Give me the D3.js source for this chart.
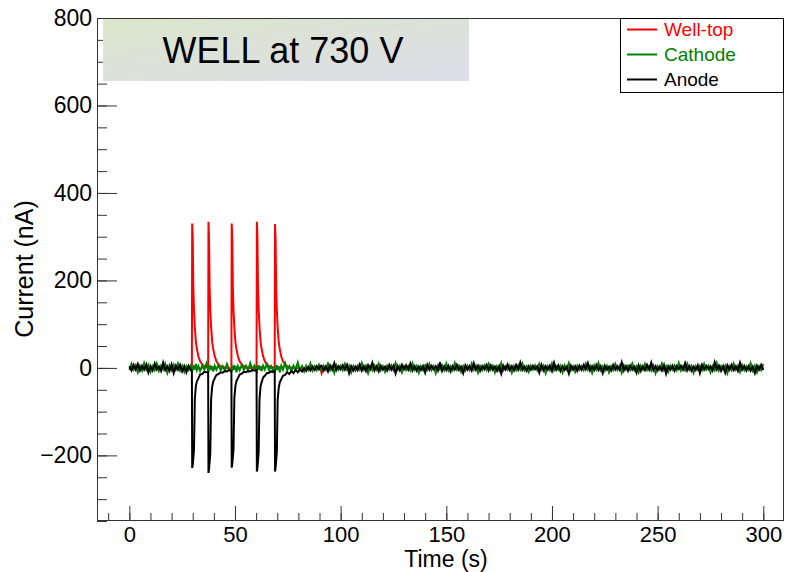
<!DOCTYPE html>
<html>
<head>
<meta charset="utf-8">
<script src="https://cdn.jsdelivr.net/npm/d3@7"></script>
<style>
  html, body { margin: 0; padding: 0; background: #fff; }
  svg { display: block; font-family: "Liberation Sans", Arial, Helvetica, sans-serif; }
</style>
</head>
<body>
<svg id="chart" width="785" height="572"></svg>
<script>
// ---------------- DATA ----------------
const seriesNames = ["Well-top", "Cathode", "Anode"];
const titleText = "WELL at 730 V";
const xTitle = "Time (s)";
const yTitle = "Current (nA)";
const xTickLabels = [0, 50, 100, 150, 200, 250, 300];
const yTickLabels = [-200, 0, 200, 400, 600, 800];

// sample times (s): quiet start, pulse region, quiet end
const earlyTimes = d3.range(0, 29);
const pulseTimes = [
  29, 29.6, 29.75, 30.0, 30.3, 30.6, 31.0, 31.5, 32.0, 32.7, 33.5, 34.5, 35.5, 36.5,
  37.3, 37.45, 37.7, 38.0, 38.3, 38.7, 39.2, 39.7, 40.4, 41.2, 42.2, 43.2, 44.2, 45.2, 46.2, 47.2,
  48.3, 48.45, 48.7, 49.0, 49.3, 49.7, 50.2, 50.7, 51.4, 52.2, 53.2, 54.2, 55.2, 56.2, 57.2, 58.2, 59.2,
  60.2, 60.35, 60.6, 60.9, 61.2, 61.6, 62.1, 62.6, 63.3, 64.1, 65.1, 66.1, 67.1, 68.1,
  68.8, 68.95, 69.2, 69.5, 69.8, 70.2, 70.7, 71.2, 71.9, 72.7, 73.7, 74.7, 75.7, 76.7, 77.7, 78.7,
  79.7, 80.7, 81.7, 82.7, 83.7, 84.7, 85.7, 86.7, 87.7, 88.7, 89.7, 90.5
];
const lateTimes = d3.range(91, 301);

// Well-top current (nA)
const wellTopEarly = [0, 1, -1, 2, 0, -1, 1, 0, -2, 1, 0, 1, -1, 0, 2, -1, 0, 1, -1, -6, 1, 0, -1, 1, 0, 2, -1, 0, 1];
const wellTopPulse = [
  -1, 1, 330, 297, 182, 132, 92, 59, 43, 26, 15, 8, 4, 2,
  1, 334, 300, 184, 134, 94, 60, 43, 27, 15, 8, 4, 2, 1, 0, -1,
  0, 330, 297, 182, 132, 92, 59, 43, 26, 15, 8, 4, 2, 1, 0, 1, 0,
  0, 334, 300, 184, 134, 94, 60, 43, 27, 15, 8, 4, 2, 1,
  0, 329, 296, 181, 132, 92, 59, 43, 26, 15, 8, 4, 2, 1, 0, 1, 0, 0, 1, 0, 0, 1, 0, 0, 0, 1, 0, -3
];
const wellTopLate = [
  -12, 1, 0, -1, 1, 0, 2, -1, 0, 1,
  0, -1, 1, 0, -1, 2, 0, 1, -1, 0,
  1, 0, -1, 1, 0, -2, 1, 0, 1, -1,
  0, 1, -1, 0, 2, -1, 0, 1, 0, -1,
  1, -1, 0, 1, -1, 0, 2, 0, -1, 1,
  0, 1, -2, 0, 1, -1, 0, 1, 0, -1,
  2, 0, -1, 1, 0, -1, 1, 0, -1, 0,
  1, -1, 0, 2, -1, 0, 1, -1, 0, 1,
  0, 1, -1, 0, 1, 0, -2, 1, 0, -1,
  1, 0, -1, 1, 0, 2, -1, 0, 1, -1,
  0, -1, 1, 0, -1, 1, 0, 2, -1, 0,
  1, 0, -1, 0, 1, -1, 0, 1, -2, 0,
  -1, 1, 0, -1, 2, 0, -1, 1, 0, 1,
  0, -1, 1, 0, -1, 1, 0, -1, 2, 0,
  1, 0, -1, 1, 0, -2, 1, 0, -1, 1,
  0, 1, -1, 0, 2, -1, 0, 1, -1, 0,
  -1, 0, 1, -1, 0, 1, 0, -1, 1, 0,
  1, -1, 0, 6, -1, 0, 1, -1, 0, 2,
  0, 1, -1, 0, 1, -1, 0, 2, -1, 0,
  1, 0, -1, 1, 0, -1, 2, 0, -1, 1,
  0, -1, 1, 0, -1, 1, 0, -1, 1, 0
];

// Cathode current (nA)
const cathodeEarly = [-5, 9, -4, 6, -10, 5, -6, 11, -4, 7, -9, 4, -5, 10, -7, 5, -4, 9, -11, 6, -5, 7, -4, 10, -6, 5, -9, 4, -5];
const cathodePulse = [
  5, -6, -8, 4, -5, 6, -4, 9, -5, 4, -7, 5, -4, 10,
  -7, -9, 5, -4, 6, -5, 4, -8, 5, -4, 7, -5, 4, -6, 9, -4,
  -8, -7, 4, -5, 6, -4, 5, -10, 4, -5, 7, -4, 5, -6, 11, -4, 5,
  -7, -8, 5, -4, 6, -5, 4, -7, 5, -4, 9, -5, 4, -6,
  -8, -6, 5, -4, 6, -5, 4, -10, 5, -4, 11, -5, 4, -7, 5, -4, 12, -5, 4, -8, 5, -4, 10, -6, 4, -5, 7, -4
];
const cathodeLate = [
  -6, 5, -4, 10, -5, 4, -11, 6, -4, 5,
  -5, 9, -4, 5, -10, 4, -6, 5, -4, 11,
  -4, 5, -12, 4, -5, 6, -4, 10, -5, 4,
  -9, 5, -4, 6, -5, 11, -4, 5, -10, 4,
  -5, 4, -6, 10, -4, 5, -11, 4, -5, 6,
  -4, 9, -5, 4, -12, 5, -4, 6, -5, 10,
  -6, 4, -5, 11, -4, 5, -9, 4, -6, 5,
  -5, 10, -4, 5, -11, 4, -5, 6, -4, 9,
  -4, 5, -10, 4, -6, 11, -5, 4, -4, 5,
  -11, 4, -5, 6, -4, 10, -5, 4, -9, 5,
  -4, 6, -5, 9, -4, 5, -12, 4, -5, 10,
  -5, 4, -4, 5, -10, 6, -4, 11, -5, 4,
  -9, 5, -4, 4, -5, 10, -4, 5, -11, 6,
  -4, 11, -5, 4, -6, 5, -10, 4, -5, 9,
  -5, 4, -11, 6, -4, 5, -4, 10, -5, 4,
  -10, 5, -4, 9, -5, 4, -6, 5, -12, 4,
  -4, 10, -5, 4, -9, 5, -4, 6, -5, 11,
  -6, 4, -5, 10, -4, 5, -11, 4, -4, 5,
  -5, 9, -4, 5, -10, 4, -5, 11, -6, 4,
  -4, 5, -12, 4, -5, 10, -4, 5, -9, 6,
  -5, 4, -4, 11, -6, 5, -10, 4, -5, 9
];

// Anode current (nA)
const anodeEarly = [4, -6, 7, -4, 9, -6, 5, -4, 8, -11, 4, -6, 10, -4, 3, -7, 12, -5, 4, -7, 8, -12, 5, -4, 7, -8, 4, -10, 5];
const anodePulse = [
  -4, -8, -229, -222, -205, -188, -70, -41, -30, -24, -15, -14, -9, -10,
  -10, -240, -232, -215, -196, -72, -43, -31, -24, -16, -14, -10, -11, -7, -8, -5,
  -7, -228, -220, -204, -185, -69, -41, -30, -23, -15, -13, -9, -10, -7, -8, -5, -6,
  -5, -237, -229, -212, -192, -72, -42, -33, -22, -18, -12, -11, -8, -9,
  -7, -237, -229, -212, -192, -73, -45, -33, -26, -18, -16, -10, -14, -7, -12, -4, -10, -3, -8, -1, -7, 2, -6, 3, -5, 4, -3, 5
];
const anodeLate = [
  5, -6, 3, -8, 6, -4, 11, -5, 4, -3,
  6, -4, 7, -12, 4, -6, 3, -5, 8, -6,
  4, -7, 6, -3, 12, -6, 4, -8, 5, -4,
  3, -6, 7, -4, 5, -13, 4, -6, 7, -3,
  6, -4, 10, -6, 4, -7, 3, -5, 4, -11,
  7, -4, 5, -3, 4, -6, 13, -7, 4, -5,
  5, -8, 4, -4, 7, -5, 3, -12, 6, -4,
  4, -6, 11, -4, 5, -7, 4, -3, 7, -6,
  6, -4, 3, -7, 4, -13, 5, -4, 8, -5,
  4, -6, 7, -4, 12, -5, 3, -7, 4, -4,
  5, -3, 4, -11, 7, -6, 4, -4, 5, -7,
  12, -4, 6, -7, 4, -5, 3, -13, 5, -4,
  4, -7, 5, -4, 7, -3, 11, -6, 4, -5,
  7, -5, 4, -12, 5, -4, 3, -6, 7, -4,
  4, -4, 13, -6, 4, -7, 5, -4, 3, -11,
  6, -7, 4, -5, 7, -4, 12, -5, 4, -6,
  3, -6, 7, -13, 4, -4, 5, -7, 4, -3,
  5, -4, 11, -6, 4, -7, 3, -5, 6, -12,
  7, -4, 5, -3, 4, -6, 13, -4, 5, -7,
  4, -11, 6, -4, 7, -5, 4, -7, 12, -4,
  5, -6, 4, -7, 3, -12, 5, -4, 7, -5
];

const seriesColors = ["#ff0000", "#008000", "#000000"];

// ---------------- BUILD ----------------
const allTimes = [...earlyTimes, ...pulseTimes, ...lateTimes];
function toPoints(vals) {
  const n = Math.min(vals.length, allTimes.length);
  const pts = [];
  for (let i = 0; i < n; i++) pts.push([allTimes[i], vals[i]]);
  return pts;
}
const series = [
  { name: seriesNames[0], color: seriesColors[0], pts: toPoints([...wellTopEarly, ...wellTopPulse, ...wellTopLate]) },
  { name: seriesNames[1], color: seriesColors[1], pts: toPoints([...cathodeEarly, ...cathodePulse, ...cathodeLate]) },
  { name: seriesNames[2], color: seriesColors[2], pts: toPoints([...anodeEarly, ...anodePulse, ...anodeLate]) }
];

const svg = d3.select("#chart");
const L = 97, R = 784, T = 18, B = 521;
const x = d3.scaleLinear().domain([-15.3, 309.8]).range([L, R]);
const y = d3.scaleLinear().domain([-350, 800]).range([B, T]);
const axisColor = "#333";

// clip
const defs = svg.append("defs");
defs.append("clipPath").attr("id", "plotclip")
  .append("rect").attr("x", L).attr("y", T).attr("width", R - L).attr("height", B - T);

// gradient for title box
const grad = defs.append("linearGradient").attr("id", "titlegrad")
  .attr("x1", "0%").attr("y1", "0%").attr("x2", "100%").attr("y2", "100%");
grad.append("stop").attr("offset", "0%").attr("stop-color", "#dbe6cc");
grad.append("stop").attr("offset", "100%").attr("stop-color", "#dedde8");

// data lines
const line = d3.line().x(d => x(d[0])).y(d => y(d[1]));
const plot = svg.append("g").attr("clip-path", "url(#plotclip)");
series.forEach(s => {
  plot.append("path").datum(s.pts)
    .attr("fill", "none").attr("stroke", s.color).attr("stroke-width", 2)
    .attr("stroke-linejoin", "miter").attr("d", line);
});

// axes: minor ticks
const yMinor = d3.axisLeft(y).tickValues(d3.range(-350, 801, 50)).tickSizeInner(-10).tickSizeOuter(0).tickFormat("");
const xMinor = d3.axisBottom(x).tickValues(d3.range(-10, 310, 10)).tickSizeInner(-8).tickSizeOuter(0).tickFormat("");
const gyMin = svg.append("g").attr("transform", `translate(${L},0)`).call(yMinor);
const gxMin = svg.append("g").attr("transform", `translate(0,${B})`).call(xMinor);

// major ticks with labels
const yMajor = d3.axisLeft(y).tickValues(yTickLabels).tickSizeInner(-20).tickSizeOuter(0).tickPadding(5)
  .tickFormat(d => d < 0 ? "\u2212" + Math.abs(d) : String(d));
const xMajor = d3.axisBottom(x).tickValues(xTickLabels).tickSizeInner(-15).tickSizeOuter(0).tickPadding(5);
const gy = svg.append("g").attr("transform", `translate(${L},0)`).call(yMajor);
const gx = svg.append("g").attr("transform", `translate(0,${B})`).call(xMajor);

[gyMin, gxMin, gy, gx].forEach(g => {
  g.select(".domain").remove();
  g.selectAll("line").attr("stroke", axisColor);
  g.selectAll("text").attr("fill", "#000")
    .style("font-family", '"Liberation Sans", Arial, sans-serif');
});
gy.selectAll("text").style("font-size", "23px");
gx.selectAll("text").style("font-size", "22px");

// frame
svg.append("rect").attr("x", L + 0.5).attr("y", T + 0.5).attr("width", R - L - 1).attr("height", B - T - 1)
  .attr("fill", "none").attr("stroke", axisColor).attr("stroke-width", 1);

// axis titles
svg.append("text").attr("x", 446).attr("y", 566.5).attr("text-anchor", "middle")
  .style("font-size", "23px").text(xTitle);
svg.append("text").attr("transform", "translate(33,269) rotate(-90)").attr("text-anchor", "middle")
  .style("font-size", "25px").text(yTitle);

// title box
svg.append("rect").attr("x", 103).attr("y", 19).attr("width", 366).attr("height", 62)
  .attr("fill", "url(#titlegrad)");
svg.append("text").attr("x", 283).attr("y", 63).attr("text-anchor", "middle")
  .style("font-size", "36px").text(titleText);

// legend
const leg = svg.append("g");
leg.append("rect").attr("x", 620.5).attr("y", 18.5).attr("width", 163).attr("height", 74)
  .attr("fill", "#fff").attr("stroke", "#000").attr("stroke-width", 1);
const legRowY = d3.scalePoint().domain(seriesNames).range([29.5, 79.5]);
series.forEach(s => {
  const yy = legRowY(s.name);
  leg.append("line").attr("x1", 627).attr("x2", 657).attr("y1", yy).attr("y2", yy)
    .attr("stroke", s.color).attr("stroke-width", 2);
  leg.append("text").attr("x", 664).attr("y", yy + 6.5).attr("fill", s.color)
    .style("font-size", "19px").text(s.name);
});
</script>
</body>
</html>
